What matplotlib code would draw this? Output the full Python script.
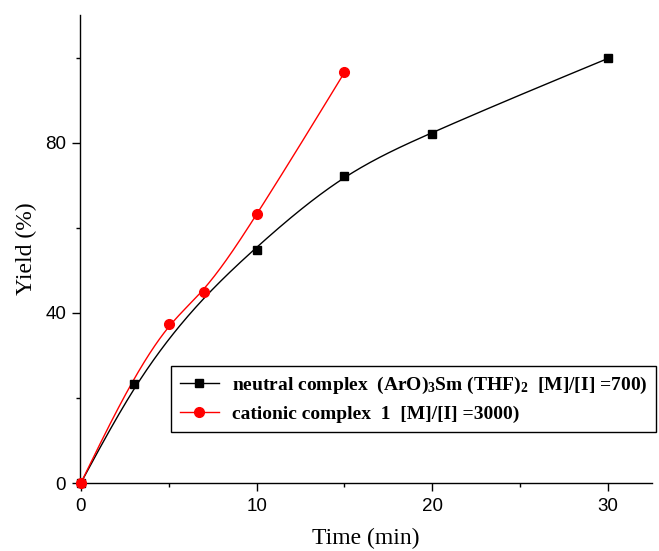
import numpy as np
import matplotlib
matplotlib.use("Agg")
import matplotlib.pyplot as plt
from matplotlib.ticker import MultipleLocator

# Data
t_neutral = [0, 3, 10, 15, 20, 30]
y_neutral = [0, 23.3, 54.8, 72.2, 82.1, 99.8]
t_cationic = [0, 5, 7, 10, 15]
y_cationic = [0, 37.4, 44.9, 63.3, 96.5]
label_neutral = r"neutral complex  (ArO)$_\mathbf{3}$Sm (THF)$_\mathbf{2}$  [M]/[I] =700)"
label_cationic = r"cationic complex  1  [M]/[I] =3000)"

XLIM = (-0.05, 32.5)
YLIM = (0, 110)


def smoothing_spline(x, y, target_rms, G=400):
    """Penalized (second-difference) smoothing curve through the data."""
    x = np.asarray(x, float)
    y = np.asarray(y, float)
    xs = np.linspace(x[0], x[-1], G)
    h = xs[1] - xs[0]
    A = np.zeros((len(x), G))
    for i, xv in enumerate(x):
        k = min(int((xv - xs[0]) / h), G - 2)
        f = (xv - xs[k]) / h
        A[i, k] = 1 - f
        A[i, k + 1] = f
    w = np.ones(len(x))
    w[0] = w[-1] = 50.0
    W = np.diag(w)
    D = np.zeros((G - 2, G))
    for i in range(G - 2):
        D[i, i:i + 3] = [1, -2, 1]
    D /= h**2
    P = D.T @ D * h

    def solve(lam):
        return np.linalg.solve(A.T @ W @ A + lam * P, A.T @ W @ y)

    lo, hi = -8.0, 6.0
    for _ in range(50):
        mid = 0.5 * (lo + hi)
        f = solve(10**mid)
        rms = np.sqrt(np.mean((A @ f - y)[1:-1] ** 2))
        if rms > target_rms:
            hi = mid
        else:
            lo = mid
    return xs, solve(10**lo)


plt.rcParams["mathtext.fontset"] = "custom"
plt.rcParams["mathtext.rm"] = "Liberation Serif:bold"
plt.rcParams["mathtext.bf"] = "Liberation Serif:bold"
plt.rcParams["mathtext.it"] = "Liberation Serif:bold"

fig = plt.figure(figsize=(6.59, 5.51), dpi=100)
ax = fig.add_axes([0.1214, 0.1234, 0.868, 0.8494])

xs, ys = smoothing_spline(t_neutral, y_neutral, 0.8)
ax.plot(xs, ys, color="black", lw=1.0, clip_on=False)
ax.plot(t_neutral, y_neutral, ls="none", marker="s", ms=6, color="black", clip_on=False, zorder=3)
xs, ys = smoothing_spline(t_cationic, y_cationic, 0.6)
ax.plot(xs, ys, color="red", lw=1.0, clip_on=False)
ax.plot(t_cationic, y_cationic, ls="none", marker="o", ms=7, color="red", clip_on=False, zorder=4)

h1, = ax.plot([], [], color="black", lw=1.0, marker="s", ms=6)
h2, = ax.plot([], [], color="red", lw=1.0, marker="o", ms=7)

ax.set_xlim(*XLIM)
ax.set_ylim(*YLIM)
ax.xaxis.set_major_locator(MultipleLocator(10))
ax.xaxis.set_minor_locator(MultipleLocator(5))
ax.yaxis.set_major_locator(MultipleLocator(40))
ax.yaxis.set_minor_locator(MultipleLocator(20))
for s in ["top", "right"]:
    ax.spines[s].set_visible(False)
for s in ["left", "bottom"]:
    ax.spines[s].set_linewidth(1.0)
ax.tick_params(which="major", direction="out", length=6, width=1.0, labelsize=13.5)
ax.tick_params(axis="x", which="major", pad=5)
ax.tick_params(axis="y", which="major", pad=4)
ax.tick_params(which="minor", direction="out", length=3, width=1.0)
for lab in ax.get_xticklabels() + ax.get_yticklabels():
    lab.set_family("Liberation Sans")

ax.set_xlabel("Time (min)", family="Liberation Serif", fontsize=17, labelpad=9)
ax.set_ylabel("Yield (%)", family="Liberation Serif", fontsize=17, labelpad=6)

leg = ax.legend([h1, h2], [label_neutral, label_cationic],
                loc="lower left", bbox_to_anchor=(0.159, 0.109), bbox_transform=ax.transAxes,
                prop={"family": "Liberation Serif", "weight": "bold", "size": 14},
                frameon=True, fancybox=False, edgecolor="black", framealpha=1,
                handlelength=2.0, handletextpad=0.7, borderpad=0.45, labelspacing=0.5,
                borderaxespad=0)
leg.get_frame().set_linewidth(1.0)

fig.savefig("out.png", dpi=100)
